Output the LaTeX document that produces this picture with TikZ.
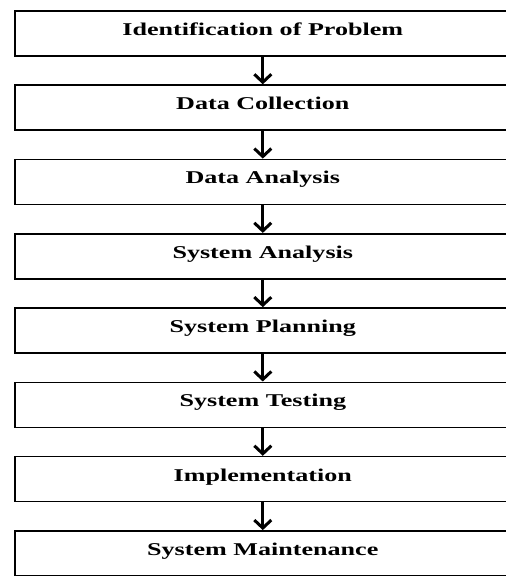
\documentclass[tikz,border=0pt]{standalone}
\usepackage{fontspec}
\setmainfont{Liberation Serif}
\newfontfamily\stagefont[FakeStretch=1.45]{Liberation Serif}
\usetikzlibrary{arrows.meta,positioning}

\begin{document}
\begin{tikzpicture}[x=1pt,y=1pt,node distance=27.7pt,
  stagebox/.style={draw,line width=1.6pt,minimum width=496pt,minimum height=45pt,inner sep=0pt,
    text height=10pt,text depth=6pt,font=\stagefont\bfseries\fontsize{18}{20}\selectfont},
  flow/.style={line width=3pt,-{Straight Barb[length=8pt,width=17pt]}}]
  \useasboundingbox (0,0) rectangle (506,-576);
  \clip (0,0) rectangle (506,-576);
  % stages of the work, top to bottom
  \node[stagebox,anchor=north west] (ident) at (14,-10) {Identification of Problem};
  \node[stagebox,below=of ident] (collect) {Data Collection};
  \node[stagebox,below=of collect] (danal) {Data Analysis};
  \node[stagebox,below=of danal] (sanal) {System Analysis};
  \node[stagebox,below=of sanal] (plan) {System Planning};
  \node[stagebox,below=of plan] (test) {System Testing};
  \node[stagebox,below=of test] (impl) {Implementation};
  \node[stagebox,below=of impl] (maint) {System Maintenance};
  % arrows between them
  \draw[flow] (ident) -- (collect);
  \draw[flow] (collect) -- (danal);
  \draw[flow] (danal) -- (sanal);
  \draw[flow] (sanal) -- (plan);
  \draw[flow] (plan) -- (test);
  \draw[flow] (test) -- (impl);
  \draw[flow] (impl) -- (maint);
\end{tikzpicture}
\end{document}
